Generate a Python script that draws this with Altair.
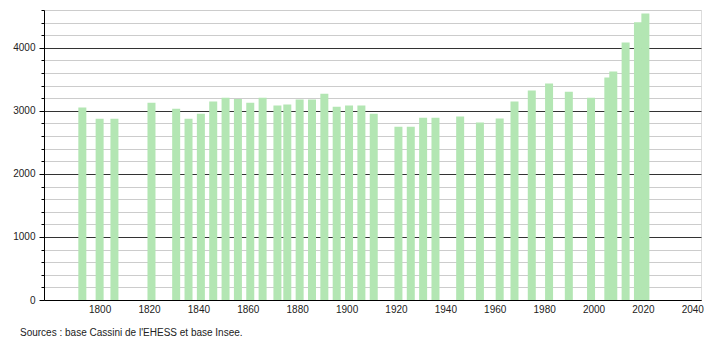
import altair as alt
import pandas as pd

years = [1793, 1800, 1806, 1821, 1831, 1836, 1841, 1846, 1851, 1856, 1861, 1866,
         1872, 1876, 1881, 1886, 1891, 1896, 1901, 1906, 1911, 1921, 1926, 1931,
         1936, 1946, 1954, 1962, 1968, 1975, 1982, 1990, 1999, 2006, 2008, 2013,
         2018, 2021]
population = [3055, 2875, 2875, 3130, 3035, 2875, 2955, 3150, 3210, 3190, 3130, 3210,
              3085, 3100, 3180, 3180, 3270, 3065, 3085, 3085, 2955, 2750, 2750, 2890,
              2890, 2910, 2815, 2880, 3150, 3325, 3435, 3305, 3210, 3530, 3625, 4085,
              4405, 4545]
x_ticks = list(range(1800, 2041, 20))
y_ticks = list(range(0, 4601, 200))
source_text = "Sources : base Cassini de l'EHESS et base Insee."

df = pd.DataFrame({"year": years, "pop": population})

FONT = "Liberation Sans"

x = alt.X("year:Q",
          scale=alt.Scale(domain=[1779.5, 2041.5], nice=False, zero=False),
          axis=alt.Axis(values=x_ticks, format="d", title=None, grid=False,
                        ticks=False, labelPadding=4, labelFontSize=10,
                        labelFont=FONT, labelColor="#222",
                        domainColor="#000", labelFlush=False))
y = alt.Y("pop:Q",
          scale=alt.Scale(domain=[0, 4600], nice=False),
          axis=alt.Axis(values=y_ticks, title=None, grid=True,
                        gridColor={"condition": {"test": "datum.value % 1000 === 0", "value": "#333333"}, "value": "#cccccc"},
                        tickSize={"condition": {"test": "datum.value % 1000 === 0", "value": 5}, "value": 3},
                        tickColor="#000", domainColor="#000",
                        labelExpr="datum.value % 1000 === 0 ? datum.label : ''",
                        format="d", labelFontSize=10, labelFont=FONT,
                        labelColor="#222", labelPadding=4))

bars = alt.Chart(df).mark_bar(size=8, color="#b3e6b3").encode(x=x, y=y)

src = alt.Chart(pd.DataFrame({"t": [source_text]})).mark_text(
    align="left", baseline="alphabetic", fontSize=10, font=FONT, color="#222"
).encode(x=alt.value(-24), y=alt.value(326), text="t:N")

chart = alt.layer(bars, src).properties(
    width=657, height=290,
    autosize=alt.AutoSizeParams(type="none"),
    padding={"left": 44, "top": 10, "right": 9, "bottom": 40},
).configure_view(stroke=None).configure(background="white")

chart.save("out.html", embed_options={"renderer": "svg", "actions": False})
